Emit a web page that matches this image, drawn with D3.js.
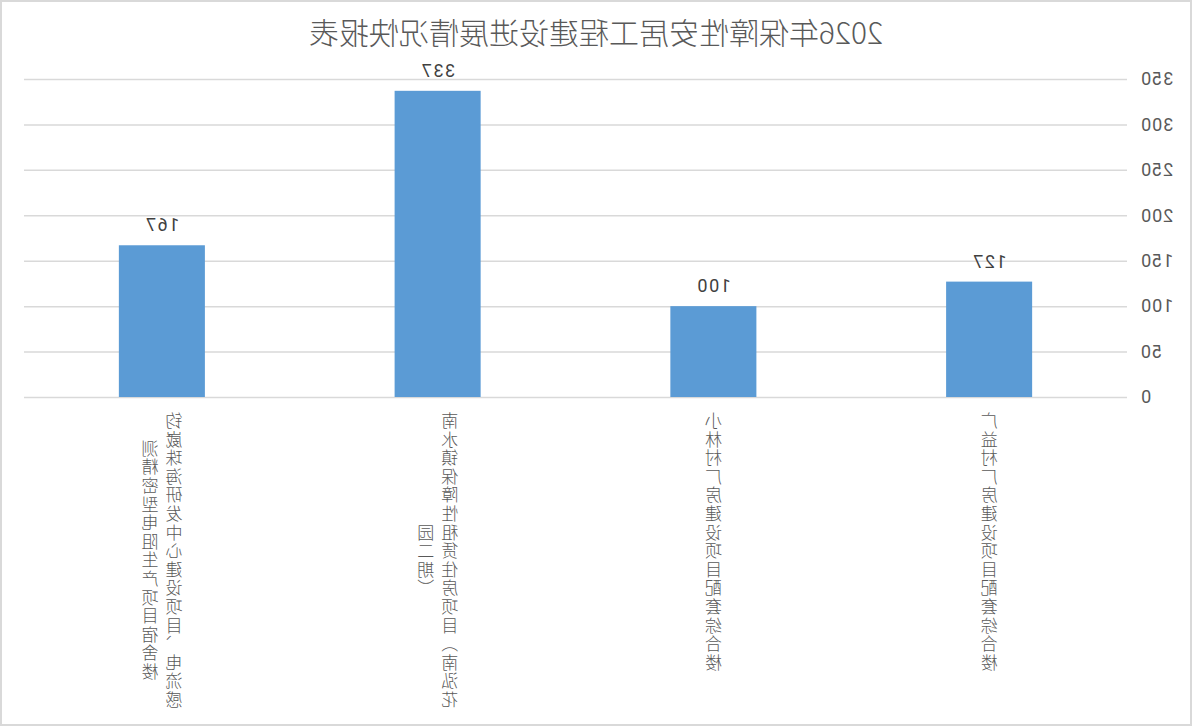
<!DOCTYPE html>
<html>
<head>
<meta charset="utf-8">
<script src="https://cdn.jsdelivr.net/npm/d3@7"></script>
<style>
  body { margin: 0; background: #fff; }
  svg { display: block; }
</style>
</head>
<body>
<div id="chart"></div>
<script>
const title = '2026年保障性安居工程建设进展情况快报表'
const categories = [
  '广益村厂房建设项目配套综合楼',
  '小林村厂房建设项目配套综合楼',
  '南水镇保障性租赁住房项目（南泓花园二期）',
  '钧崴珠海研发中心建设项目、电流感测精密型电阻生产项目宿舍楼'
]
const values = [127, 100, 337, 167]
const yTicks = [0, 50, 100, 150, 200, 250, 300, 350]

const width = 1192
const height = 726
const margin = { top: 79, right: 24, bottom: 329, left: 65 }

const svg = d3.select('#chart').append('svg')
  .attr('width', width)
  .attr('height', height)

// the reference is a mirror image, so draw normally and flip the whole thing
const root = svg.append('g')
  .attr('transform', 'translate(' + width + ',0) scale(-1,1)')

root.append('rect')
  .attr('x', 1).attr('y', 1)
  .attr('width', width - 2).attr('height', height - 2)
  .attr('fill', '#fff')
  .attr('stroke', '#d9d9d9')
  .attr('stroke-width', 2)

const x = d3.scaleBand()
  .domain(categories)
  .range([margin.left, width - margin.right])
  .paddingInner(0.688)
  .paddingOuter(0.344)

const y = d3.scaleLinear()
  .domain([0, 350])
  .range([height - margin.bottom, margin.top])

// gridlines + tick labels
const yAxis = root.append('g')
  .attr('transform', 'translate(' + margin.left + ',0)')
  .call(d3.axisLeft(y).tickValues(yTicks).tickSize(-(width - margin.left - margin.right)).tickPadding(13))
yAxis.select('.domain').remove()
yAxis.selectAll('.tick line')
  .attr('stroke', '#d9d9d9')
  .attr('stroke-width', 1.5)
yAxis.selectAll('.tick text')
  .attr('fill', '#595959')
  .style('font-family', 'Roboto, "Noto Sans", sans-serif')
  .style('font-size', '18px')
  .style('letter-spacing', '1px')

// bars
root.append('g').selectAll('rect')
  .data(values)
  .join('rect')
  .attr('x', (d, i) => x(categories[i]))
  .attr('y', d => y(d))
  .attr('width', x.bandwidth())
  .attr('height', d => y(0) - y(d))
  .attr('fill', '#5b9bd5')

// value labels
root.append('g').selectAll('text')
  .data(values)
  .join('text')
  .attr('x', (d, i) => x(categories[i]) + x.bandwidth() / 2)
  .attr('y', d => y(d) - 14)
  .attr('text-anchor', 'middle')
  .attr('fill', '#404040')
  .style('font-family', 'Roboto, "Noto Sans", sans-serif')
  .style('font-size', '18px')
  .style('letter-spacing', '1.5px')
  .text(d => d)

// stacked category labels: vertical text, wrapped into columns of 16 characters
const perCol = 16
const fontSize = 17
const charStep = 18.6
const colStep = 24
const labelTop = 412

categories.forEach(function(cat) {
  const chars = Array.from(cat)
  const cols = []
  for (let i = 0; i < chars.length; i += perCol) cols.push(chars.slice(i, i + perCol).join(''))
  const longest = d3.max(cols, c => c.length)
  const cx = x(cat) + x.bandwidth() / 2
  root.append('g').selectAll('text')
    .data(cols)
    .join('text')
    .attr('x', (d, ci) => cx + (ci - (cols.length - 1) / 2) * colStep)
    .attr('y', d => labelTop + (longest - d.length) * charStep / 2)
    .attr('fill', '#595959')
    .style('writing-mode', 'vertical-rl')
    .style('text-orientation', 'upright')
    .style('font-family', '"Noto Sans CJK SC", sans-serif')
    .style('font-size', fontSize + 'px')
    .style('letter-spacing', (charStep - fontSize) + 'px')
    .style('font-weight', 300)
    .text(d => d)
})

root.append('text')
  .attr('x', 596)
  .attr('y', 44)
  .attr('text-anchor', 'middle')
  .attr('fill', '#595959')
  .style('font-family', '"Noto Sans CJK SC", sans-serif')
  .style('font-size', '30px')
  .style('font-weight', 300)
  .text(title)
</script>
</body>
</html>
